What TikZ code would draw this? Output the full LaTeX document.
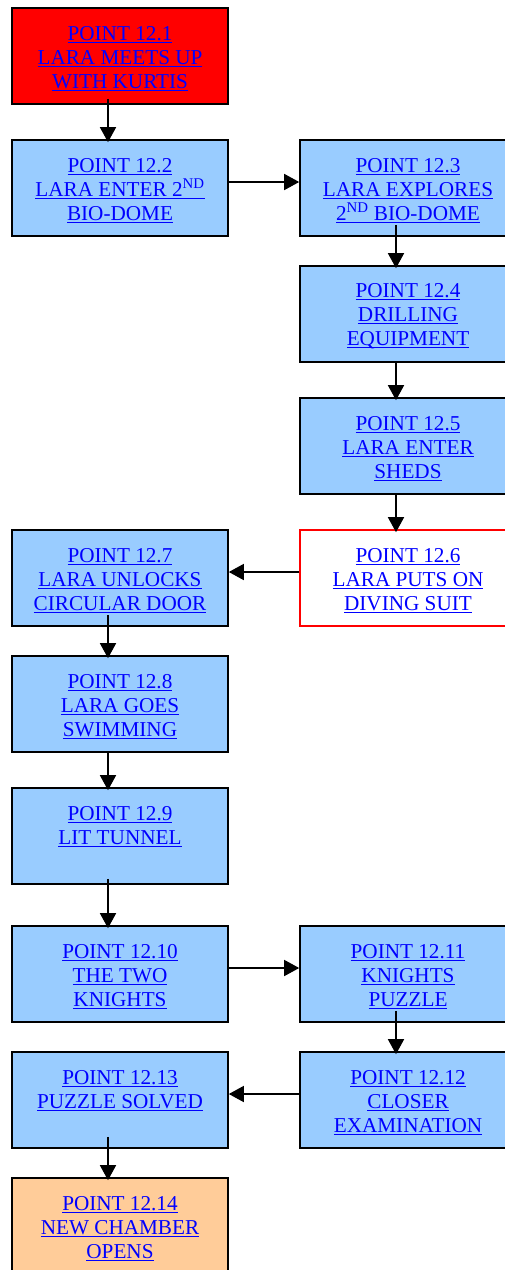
\documentclass[tikz,border=0pt]{standalone}
\usepackage{fontspec}
\setmainfont{Liberation Serif}
\usetikzlibrary{arrows.meta,calc}
\definecolor{boxblue}{HTML}{99CCFF}
\definecolor{boxred}{HTML}{FF0000}
\definecolor{boxorange}{HTML}{FFCC99}
\definecolor{linkblue}{HTML}{0000FF}
\newcommand\ulx[1]{\setbox0\hbox{#1}\rlap{\rule[-2pt]{\wd0}{1pt}}\box0}
\newcommand\firstln[1]{\rule{0pt}{19pt}\ulx{#1}}
\begin{document}
\begin{tikzpicture}[x=1pt,y=-1pt,
  box/.style={draw=black,line width=1.6pt,fill=boxblue,minimum width=216pt,minimum height=96pt,
    inner sep=0pt,align=center,text=linkblue,font=\fontsize{21.2}{24}\selectfont},
  redbox/.style={box,fill=boxred},
  whitebox/.style={box,fill=white,draw=boxred},
  orangebox/.style={box,fill=boxorange},
  arr/.style={line width=1.5pt,-{Triangle[length=15pt,width=16pt]}}]
\useasboundingbox (0,0) rectangle (505,1270);
\clip (0,0) rectangle (505,1270);
\fill[white] (0,0) rectangle (505,1270);
\node[redbox] (p1) at (120,56) {\firstln{POINT 12.1}\\\ulx{LARA MEETS UP}\\\ulx{WITH KURTIS}};
\node[box] (p2) at (120,188) {\firstln{POINT 12.2}\\\ulx{LARA ENTER 2\textsuperscript{ND}}\\\ulx{BIO-DOME}};
\node[box] (p3) at (408,188) {\firstln{POINT 12.3}\\\ulx{LARA EXPLORES}\\\ulx{2\textsuperscript{ND} BIO-DOME}};
\node[box] (p4) at (408,314) {\firstln{POINT 12.4}\\\ulx{DRILLING}\\\ulx{EQUIPMENT}};
\node[box] (p5) at (408,446) {\firstln{POINT 12.5}\\\ulx{LARA ENTER}\\\ulx{SHEDS}};
\node[whitebox] (p6) at (408,578) {\firstln{POINT 12.6}\\\ulx{LARA PUTS ON}\\\ulx{DIVING SUIT}};
\node[box] (p7) at (120,578) {\firstln{POINT 12.7}\\\ulx{LARA UNLOCKS}\\\ulx{CIRCULAR DOOR}};
\node[box] (p8) at (120,704) {\firstln{POINT 12.8}\\\ulx{LARA GOES}\\\ulx{SWIMMING}};
\node[box] (p9) at (120,836) {\firstln{POINT 12.9}\\\ulx{LIT TUNNEL}\\\phantom{\ulx{X}}};
\node[box] (p10) at (120,974) {\firstln{POINT 12.10}\\\ulx{THE TWO}\\\ulx{KNIGHTS}};
\node[box] (p11) at (408,974) {\firstln{POINT 12.11}\\\ulx{KNIGHTS}\\\ulx{PUZZLE}};
\node[box] (p12) at (408,1100) {\firstln{POINT 12.12}\\\ulx{CLOSER}\\\ulx{EXAMINATION}};
\node[box] (p13) at (120,1100) {\firstln{POINT 12.13}\\\ulx{PUZZLE SOLVED}\\\phantom{\ulx{X}}};
\node[orangebox] (p14) at (120,1226) {\firstln{POINT 12.14}\\\ulx{NEW CHAMBER}\\\ulx{OPENS}};
\draw[arr] ($(p1.south)+(-12,-6)$) -- ($(p2.north)+(-12,3)$);
\draw[arr] ($(p2.east)+(0,-6)$) -- ($(p3.west)+(0,-6)$);
\draw[arr] ($(p3.south)+(-12,-12)$) -- ($(p4.north)+(-12,3)$);
\draw[arr] ($(p4.south)+(-12,0)$) -- ($(p5.north)+(-12,3)$);
\draw[arr] ($(p5.south)+(-12,0)$) -- ($(p6.north)+(-12,3)$);
\draw[arr] ($(p6.west)+(0,-6)$) -- ($(p7.east)+(0,-6)$);
\draw[arr] ($(p7.south)+(-12,-12)$) -- ($(p8.north)+(-12,3)$);
\draw[arr] ($(p8.south)+(-12,0)$) -- ($(p9.north)+(-12,3)$);
\draw[arr] ($(p9.south)+(-12,-6)$) -- ($(p10.north)+(-12,3)$);
\draw[arr] ($(p10.east)+(0,-6)$) -- ($(p11.west)+(0,-6)$);
\draw[arr] ($(p11.south)+(-12,-12)$) -- ($(p12.north)+(-12,3)$);
\draw[arr] ($(p12.west)+(0,-6)$) -- ($(p13.east)+(0,-6)$);
\draw[arr] ($(p13.south)+(-12,-12)$) -- ($(p14.north)+(-12,3)$);
\end{tikzpicture}
\end{document}
